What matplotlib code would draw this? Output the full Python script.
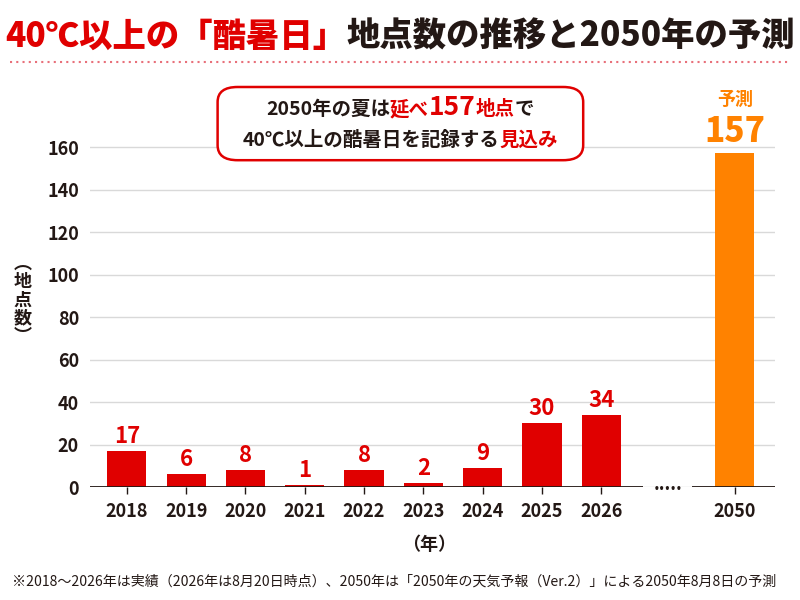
import matplotlib
matplotlib.use("Agg")
import matplotlib.pyplot as plt
from matplotlib.patches import FancyBboxPatch
from matplotlib.lines import Line2D

plt.rcParams['font.family'] = ['Noto Sans CJK JP', 'DejaVu Sans']

RED = '#e00000'
ORANGE = '#ff8200'
DARK = '#231815'
GRID = '#d9d9d9'

# data
past_years = ['2018', '2019', '2020', '2021', '2022', '2023', '2024', '2025', '2026']
past_counts = [17, 6, 8, 1, 8, 2, 9, 30, 34]
forecast_year = '2050'
forecast_count = 157

title_red = '40℃以上の「酷暑日」'
title_black = '地点数の推移と2050年の予測'
note = '※2018～2026年は実績（2026年は8月20日時点）、2050年は「2050年の天気予報（Ver.2）」による2050年8月8日の予測'

fig = plt.figure(figsize=(8, 6), dpi=100)
ax = fig.add_axes([0.1125, 0.1883, 0.8563, 0.595])

x_past = list(range(len(past_years)))
gap = 2.25
x_fc = x_past[-1] + gap
bw = 0.66

ax.bar(x_past, past_counts, width=bw, color=RED, zorder=3)
ax.bar([x_fc], [forecast_count], width=bw, color=ORANGE, zorder=3)

for x, v in zip(x_past, past_counts):
    ax.annotate(str(v), (x, v), xytext=(0, 2), textcoords='offset points',
                ha='center', va='bottom', color=RED, fontsize=16, fontweight='bold')
ax.annotate(str(forecast_count), (x_fc, forecast_count), xytext=(0, 3), textcoords='offset points',
            ha='center', va='bottom', color=ORANGE, fontsize=24, fontweight='black')
ax.annotate('予測', (x_fc, forecast_count), xytext=(0, 32), textcoords='offset points',
            ha='center', va='bottom', color=ORANGE, fontsize=13, fontweight='bold')

left, right = -0.62, 10.93
ax.set_xlim(left, right)
ax.set_ylim(0, 168)
ax.set_yticks(range(0, 161, 20))
ax.set_xticks(x_past + [x_fc])
ax.set_xticklabels(past_years + [forecast_year])
ax.grid(axis='y', color=GRID, linewidth=1, zorder=0)
for s in ax.spines.values():
    s.set_visible(False)
ax.tick_params(axis='y', length=0, pad=8, labelsize=13, labelcolor=DARK)
ax.tick_params(axis='x', length=5, width=1, color=DARK, pad=6, labelsize=13, labelcolor=DARK)
for lab in ax.get_xticklabels() + ax.get_yticklabels():
    lab.set_fontweight('bold')

# baseline with a break before the forecast
ax.hlines(0, left, x_past[-1] + 0.7, color=DARK, linewidth=1.3, zorder=4)
ax.hlines(0, x_past[-1] + 1.53, right, color=DARK, linewidth=1.3, zorder=4)
ax.annotate('.....', (x_past[-1] + 1.12, 0), xytext=(0, -2), textcoords='offset points',
            ha='center', va='baseline', fontsize=13, fontweight='bold', color=DARK)

ax.text(5.1, -0.16, '（年）', transform=ax.get_xaxis_transform(),
        ha='center', va='center', fontsize=13, fontweight='bold', color=DARK)
fig.text(0.028, 0.5, '︵\n地\n点\n数\n︶', ha='center', va='center', fontsize=13,
         fontweight='bold', color=DARK, linespacing=0.95)


def multicolor(y, parts, xc=None, x0=None):
    r = fig.canvas.get_renderer()
    W = fig.bbox.width
    texts = [fig.text(0, y, s, color=c, fontsize=fs, fontweight=fw, va='baseline', ha='left')
             for s, c, fs, fw in parts]
    widths = [t.get_window_extent(r).width for t in texts]
    pos = xc * W - sum(widths) / 2 if xc is not None else x0 * W
    for t, w in zip(texts, widths):
        t.set_x(pos / W)
        pos += w


multicolor(0.922, [(title_red, RED, 24, 'black'), (title_black, DARK, 24, 'black')], xc=0.5)
fig.add_artist(Line2D([0.013, 0.987], [0.897, 0.897], transform=fig.transFigure,
                      color='#e8707a', linewidth=1.5, linestyle=(0, (1, 2))))

box = FancyBboxPatch((0.272, 0.733), 0.457, 0.122, boxstyle='round,pad=0,rounding_size=0.025',
                     transform=fig.transFigure, facecolor='white', edgecolor=RED, linewidth=1.8,
                     zorder=5)
fig.add_artist(box)
multicolor(0.808, [('2050年の夏は', DARK, 14, 'bold'), ('延べ', RED, 14, 'bold'),
                   ('157', RED, 19, 'bold'), ('地点', RED, 14, 'bold'), ('で', DARK, 14, 'bold')],
           xc=0.5)
multicolor(0.757, [('40℃以上の酷暑日を記録する', DARK, 14, 'bold'), ('見込み', RED, 14, 'bold')],
           xc=0.5)
for t in fig.texts:
    t.set_zorder(6)

fig.text(0.015, 0.03, note, ha='left', va='center', fontsize=10.1, color=DARK)

fig.savefig('out.png', dpi=100)
